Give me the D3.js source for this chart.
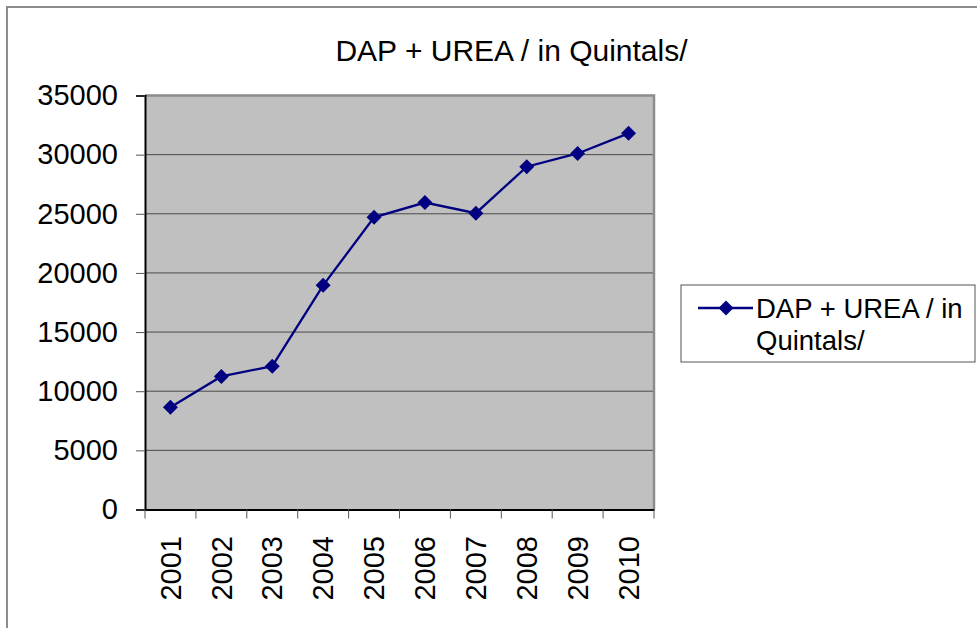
<!DOCTYPE html>
<html>
<head>
<meta charset="utf-8">
<script src="https://cdn.jsdelivr.net/npm/d3@7"></script>
<style>
  body { margin: 0; background: #fff; }
  text { font-family: "Liberation Sans", Arial, sans-serif; fill: #000; }
</style>
</head>
<body>
<div id="chart"></div>
<script>
// chart data
var years = ["2001", "2002", "2003", "2004", "2005", "2006", "2007", "2008", "2009", "2010"]
var quintals = [8650, 11250, 12120, 18950, 24700, 25950, 25050, 28980, 30100, 31800]
var yTicks = [0, 5000, 10000, 15000, 20000, 25000, 30000, 35000]
var seriesName = ["DAP + UREA / in", "Quintals/"]
var title = "DAP + UREA / in Quintals/"

const W = 977, H = 628
const plot = {left: 145, top: 95.5, right: 654, bottom: 509.5}

const svg = d3.select("#chart")
    .append("svg")
    .attr("width", W)
    .attr("height", H)

// outer chart border
svg.append("rect")
    .attr("x", 7).attr("y", 7)
    .attr("width", 1000).attr("height", 700)
    .attr("fill", "white")
    .attr("stroke", "#8c8c8c")
    .attr("stroke-width", 2)

const x = d3.scaleBand()
    .domain(years)
    .range([plot.left, plot.right])

const y = d3.scaleLinear()
    .domain([0, 35000])
    .range([plot.bottom, plot.top])

// plot area
svg.append("rect")
    .attr("x", plot.left).attr("y", plot.top)
    .attr("width", plot.right - plot.left)
    .attr("height", plot.bottom - plot.top)
    .attr("fill", "#c0c0c0")

// gridlines
svg.append("g")
    .selectAll("line")
    .data(yTicks.filter(d => d > 0 && d < 35000))
    .join("line")
    .attr("x1", plot.left).attr("x2", plot.right)
    .attr("y1", d => y(d)).attr("y2", d => y(d))
    .attr("stroke", "#4a4a4a")
    .attr("stroke-width", 1)

// plot border top / right
svg.append("path")
    .attr("d", `M${plot.left},${plot.top}H${plot.right}V${plot.bottom}`)
    .attr("fill", "none")
    .attr("stroke", "#8c8c8c")
    .attr("stroke-width", 2.5)

// y axis
const yAxis = svg.append("g")
    .attr("transform", `translate(${plot.left}, 0)`)
    .call(d3.axisLeft(y).tickValues(yTicks).tickSize(9).tickPadding(18).tickFormat(d3.format("d")))
yAxis.select(".domain").attr("stroke", "#000").attr("stroke-width", 2)
yAxis.selectAll(".tick line").attr("stroke", "#555")
yAxis.selectAll("text")
    .style("font-size", "29px")
    .attr("font-family", null)

// x axis
const xAxis = svg.append("g")
    .attr("transform", `translate(0, ${plot.bottom})`)
    .call(d3.axisBottom(x).tickSize(0).tickFormat(""))
xAxis.select(".domain").attr("stroke", "#000").attr("stroke-width", 2)

// x ticks on band edges
svg.append("g")
    .selectAll("line")
    .data(years.concat(["end"]))
    .join("line")
    .attr("x1", (d, i) => plot.left + i * x.bandwidth())
    .attr("x2", (d, i) => plot.left + i * x.bandwidth())
    .attr("y1", plot.bottom)
    .attr("y2", plot.bottom + 9)
    .attr("stroke", "#555")

// x labels rotated
svg.append("g")
    .selectAll("text")
    .data(years)
    .join("text")
    .attr("transform", d => `translate(${x(d) + x.bandwidth() / 2}, 536) rotate(-90)`)
    .attr("text-anchor", "end")
    .attr("dy", "0.35em")
    .style("font-size", "29px")
    .text(d => d)

// line + markers
const line = d3.line()
    .x((d, i) => x(years[i]) + x.bandwidth() / 2)
    .y(d => y(d))

svg.append("path")
    .datum(quintals)
    .attr("d", line)
    .attr("fill", "none")
    .attr("stroke", "#000080")
    .attr("stroke-width", 2.3)

const diamond = "M0,-7.5L7.5,0L0,7.5L-7.5,0Z"
svg.append("g")
    .selectAll("path")
    .data(quintals)
    .join("path")
    .attr("transform", (d, i) => `translate(${x(years[i]) + x.bandwidth() / 2}, ${y(d)})`)
    .attr("d", diamond)
    .attr("fill", "#000080")

// title
svg.append("text")
    .attr("x", 511.5)
    .attr("y", 61)
    .attr("text-anchor", "middle")
    .style("font-size", "30px")
    .text(title)

// legend
svg.append("rect")
    .attr("x", 681).attr("y", 285)
    .attr("width", 294).attr("height", 77)
    .attr("fill", "white")
    .attr("stroke", "#555")
    .attr("stroke-width", 1)
svg.append("line")
    .attr("x1", 698).attr("x2", 753)
    .attr("y1", 308).attr("y2", 308)
    .attr("stroke", "#000080")
    .attr("stroke-width", 2.3)
svg.append("path")
    .attr("transform", "translate(726,308)")
    .attr("d", diamond)
    .attr("fill", "#000080")
svg.append("g")
    .selectAll("text")
    .data(seriesName)
    .join("text")
    .attr("x", 756)
    .attr("y", (d, i) => 318 + i * 32)
    .style("font-size", "27.5px")
    .text(d => d)
</script>
</body>
</html>
